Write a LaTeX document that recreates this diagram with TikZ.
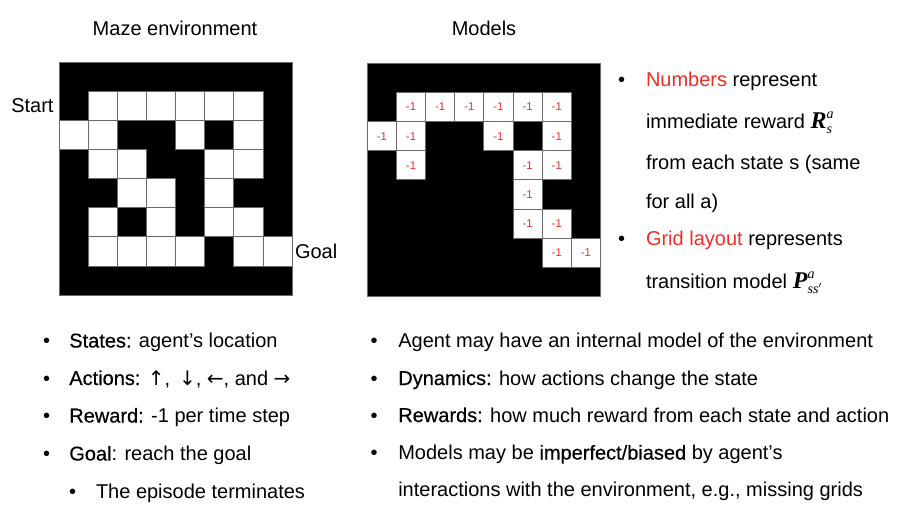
\documentclass[tikz,border=0pt]{standalone}
\usepackage{amsmath}
\usepackage{fontspec}
\setmainfont{Liberation Sans}
\newfontfamily\medfont[FakeBold=0.5]{Liberation Sans}
\newfontfamily\arrowfont{DejaVu Sans}
\newfontfamily\serifsym{Liberation Serif}
\definecolor{hlred}{RGB}{238,45,35}
\definecolor{gridgray}{RGB}{105,105,105}
\newcommand{\kw}[1]{{\medfont #1}}
\newcommand{\arr}[1]{{\arrowfont #1}}
\newcommand{\bigsym}[1]{\text{\fontsize{18pt}{18pt}\serifsym\bfseries\itshape #1\/}}
\newcommand{\smallsym}[1]{\text{\serifsym\itshape #1}}
\begin{document}
\begin{tikzpicture}[x=0.75pt,y=-0.75pt,
  txt/.style={inner sep=0pt, outer sep=0pt, font=\fontsize{15pt}{18pt}\selectfont},
  bul/.style={txt, anchor=base},
  line/.style={txt, anchor=base west},
  cellnum/.style={inner sep=0pt, text=hlred, font=\fontsize{8.5pt}{9pt}\selectfont},
  whitecell/.style={fill=white, draw=gridgray, line width=0.75pt},
  gridborder/.style={draw=gridgray, line width=0.75pt},
]
\useasboundingbox (0,0) rectangle (909,513);
\fill[white] (0,0) rectangle (909,513);

% ---------- Maze environment ----------
\def\mx{59.3}\def\my{62.3}\def\cs{29.1}
\fill[black] (\mx,\my) rectangle ++(8*\cs,8*\cs);
\foreach \r/\c in {1/1,1/2,1/3,1/4,1/5,1/6,
                   2/0,2/1,2/4,2/6,
                   3/1,3/2,3/5,3/6,
                   4/2,4/3,4/5,
                   5/1,5/3,5/5,5/6,
                   6/1,6/2,6/3,6/4,6/6,6/7}
  \path[whitecell] ({\mx+\c*\cs},{\my+\r*\cs}) rectangle ++(\cs,\cs);
\path[gridborder] (\mx,\my) rectangle ++(8*\cs,8*\cs);

% ---------- Models ----------
\def\ox{367.3}\def\oy{63.3}\def\ocs{29.15}
\fill[black] (\ox,\oy) rectangle ++(8*\ocs,8*\ocs);
\foreach \r/\c in {1/1,1/2,1/3,1/4,1/5,1/6,
                   2/0,2/1,2/4,2/6,
                   3/1,3/5,3/6,
                   4/5,
                   5/5,5/6,
                   6/6,6/7}
{
  \path[whitecell] ({\ox+\c*\ocs},{\oy+\r*\ocs}) rectangle ++(\ocs,\ocs);
  \node[cellnum] (m\r\c) at ({\ox+(\c+0.5)*\ocs},{\oy+(\r+0.5)*\ocs}) {-1};
}
\path[gridborder] (\ox,\oy) rectangle ++(8*\ocs,8*\ocs);

% ---------- Titles and labels ----------
\node[txt, anchor=base] (tmaze) at (175,36) {Maze environment};
\node[txt, anchor=base] (tmodels) at (484,36) {Models};
\node[txt, anchor=base east] (start) at (53.5,112.3) {Start};
\node[txt, anchor=base west] (goal) at (295,258.3) {Goal};

% ---------- Right-hand notes ----------
\node[bul] (rb1) at (621.7,86.7) {\textbullet};
\node[line] (r1) at (646,86.7) {\textcolor{hlred}{Numbers} represent};
\node[line] (r2) at (646,128.3) {immediate reward $\bigsym{R}^{\smallsym{a}}_{\smallsym{s}}$};
\node[line] (r3) at (646,170) {from each state s (same};
\node[line] (r4) at (646,208.3) {for all a)};
\node[bul] (rb2) at (621.7,245) {\textbullet};
\node[line] (r5) at (646,245) {\textcolor{hlred}{Grid layout} represents};
\node[line] (r6) at (646,288.3) {transition model $\bigsym{P}^{\smallsym{a}}_{\smallsym{ss}'}$};

% ---------- Bottom-left list ----------
\node[bul] (lb1) at (46.7,347.5) {\textbullet};
\node[line] (l1) at (69.3,347.5) {\kw{States:} agent’s location};
\node[bul] (lb2) at (46.7,385) {\textbullet};
\node[line] (l2) at (69.3,385) {\kw{Actions:} \arr{↑},\, \arr{↓}, \arr{←}, and \arr{→}};
\node[bul] (lb3) at (46.7,422.5) {\textbullet};
\node[line] (l3) at (69.3,422.5) {\kw{Reward:} -1 per time step};
\node[bul] (lb4) at (46.7,460.5) {\textbullet};
\node[line] (l4) at (69.3,460.5) {\kw{Goal}: reach the goal};
\node[bul] (lb5) at (72.7,498) {\textbullet};
\node[line] (l5) at (96,498) {The episode terminates};

% ---------- Bottom-right list ----------
\node[bul] (qb1) at (374,347.5) {\textbullet};
\node[line] (q1) at (398.3,347.5) {Agent may have an internal model of the environment};
\node[bul] (qb2) at (374,385) {\textbullet};
\node[line] (q2) at (398.3,385) {\kw{Dynamics:} how actions change the state};
\node[bul] (qb3) at (374,422) {\textbullet};
\node[line] (q3) at (398.3,422) {\kw{Rewards:} how much reward from each state and action};
\node[bul] (qb4) at (374,459.5) {\textbullet};
\node[line] (q4) at (398.3,459.5) {Models may be \kw{imperfect/biased} by agent’s};
\node[line] (q5) at (398.3,496) {interactions with the environment, e.g., missing grids};
\end{tikzpicture}
\end{document}
